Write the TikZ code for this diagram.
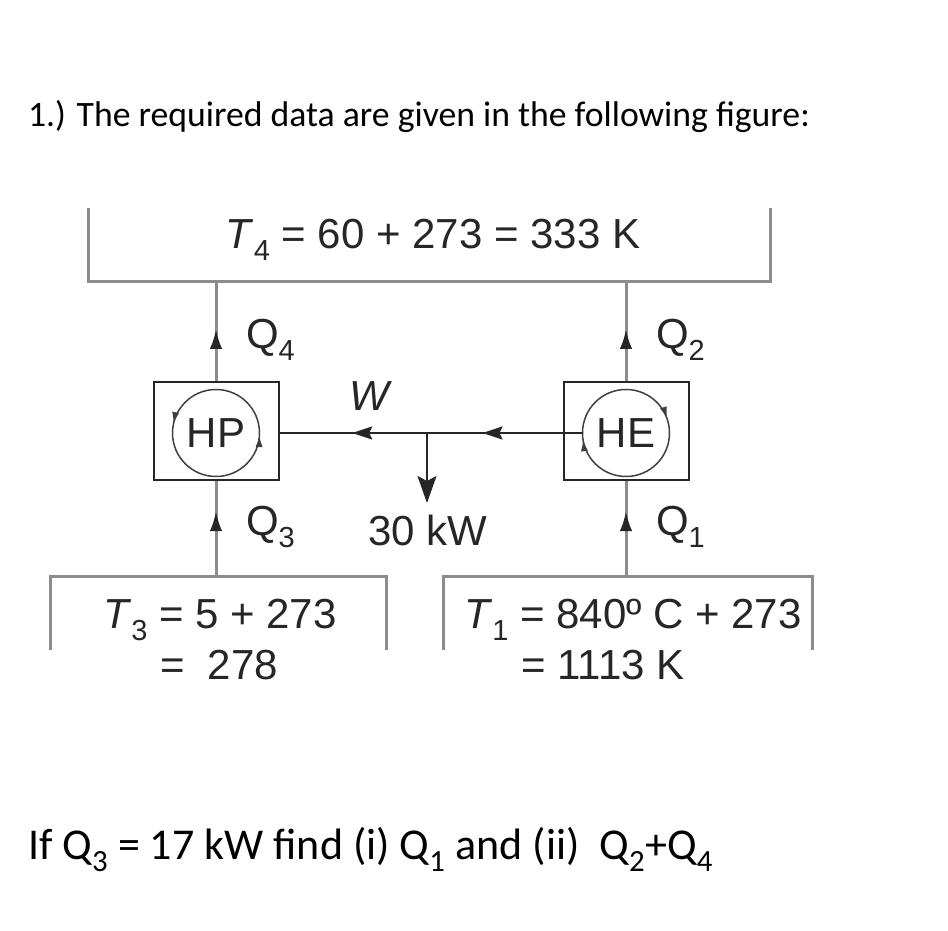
\documentclass[tikz,border=0pt]{standalone}
\usepackage{fontspec}
\setmainfont{Carlito}
\newfontfamily\figfont{Liberation Sans}
\usetikzlibrary{arrows.meta,decorations.markings}
\newcommand\lowidx[1]{\raisebox{-0.3em}{\fontsize{29}{29}\selectfont #1}}

\begin{document}
\begin{tikzpicture}[x=1pt,y=1pt,
	>={Latex[length=17pt,width=11pt]},
	every path/.style={line width=2pt},
	wall/.style={draw=black!45, line width=3pt},
	heat/.style={draw=black!45, line width=3pt, postaction={decorate,
		decoration={markings, mark=at position #1 with {\arrow[black!85]{>}}}}},
	work/.style={draw=black!85, line width=2pt, postaction={decorate,
		decoration={markings,
			mark=at position 0.33 with {\arrow{Stealth[length=20pt,width=13pt,inset=3pt]}},
			mark=at position 0.76 with {\arrow{Stealth[length=20pt,width=13pt,inset=3pt]}}}}},
	ccw/.style={draw=black!75, line width=1.5pt, postaction={decorate,
		decoration={markings,
			mark=at position 0.47 with {\arrow{Latex[length=13pt,width=8pt]}},
			mark=at position 0.995 with {\arrow{Latex[length=13pt,width=8pt]}}}}},
	cw/.style={draw=black!75, line width=1.5pt, postaction={decorate,
		decoration={markings,
			mark=at position 0.05 with {\arrowreversed{Latex[length=13pt,width=8pt]}},
			mark=at position 0.52 with {\arrowreversed{Latex[length=13pt,width=8pt]}}}}},
	unit/.style={draw=black!85, line width=2pt, minimum width=125pt, minimum height=98pt},
	lab/.style={font=\figfont\fontsize{42}{48}\selectfont, text=black!85, inner sep=0pt},
	txt/.style={anchor=base west, inner sep=0pt}]
	\fill[white] (0,0) rectangle (948,931);
	\useasboundingbox (0,0) rectangle (948,931);

	\node[txt, font=\fontsize{35.7}{40}\selectfont] (title) at (27,804)
		{1.) The required data are given in the following figure:};
	\node[txt, font=\fontsize{44}{50}\selectfont] (question) at (27,71)
		{If Q\textsubscript{3} = 17 kW find (i) Q\textsubscript{1} and (ii)\ \ Q\textsubscript{2}+Q\textsubscript{4}};

	% reservoirs
	\draw[wall] (88,723) -- (88,649) -- (770,649) -- (770,723);
	\draw[wall] (50,281) -- (50,354) -- (386,354) -- (386,281);
	\draw[wall] (443,281) -- (443,354) -- (812,354) -- (812,281);
	\coordinate (hot4) at (216,649);
	\coordinate (hot2) at (626,649);
	\coordinate (cold3) at (216,354);
	\coordinate (cold1) at (626,354);

	\node[lab] (tfour) at (433,691) {\textit{T}\lowidx{4} = 60 + 273 = 333 K};
	\node[lab] (tthree) at (220,311) {\textit{T}\lowidx{3} = 5 + 273};
	\node[lab] (tthreeb) at (219,266) {=\ \ 278};
	\node[lab] (tone) at (633,311) {\textit{T}\lowidx{1} = 840º C + 273};
	\node[lab] (toneb) at (603,266) {= 1113 K};

	% heat pump and heat engine
	\node[unit] (hpbox) at (216,500) {};
	\node[unit] (hebox) at (626,500) {};
	\node[lab] (hp) at (216,498) {HP};
	\node[lab] (he) at (626,498) {HE};
	\draw[ccw] (hp.center) circle[radius=43.5pt];
	\draw[cw] (he.center) circle[radius=43.5pt];

	\draw[heat=0.5] (hpbox.north) -- (hot4);
	\draw[heat=0.5] (hebox.north) -- (hot2);
	\draw[heat=0.66] (cold3) -- (hpbox.south);
	\draw[heat=0.66] (cold1) -- (hebox.south);
	\node[lab, anchor=west] (qfour) at (245,591) {Q\lowidx{4}};
	\node[lab, anchor=west] (qtwo) at (655,591) {Q\lowidx{2}};
	\node[lab, anchor=west] (qthree) at (245,404) {Q\lowidx{3}};
	\node[lab, anchor=west] (qone) at (655,404) {Q\lowidx{1}};

	% work
	\coordinate (hein) at ([xshift=-43.5pt]he.center);
	\coordinate (split) at (427,498);
	\coordinate (out) at (427,428);
	\draw[work] (hein) -- (hein -| hpbox.east);
	\draw[draw=black!85, -{Stealth[length=27pt,width=19pt,inset=5pt]}] (split) -- (out);
	\node[lab, font=\figfont\itshape\fontsize{42}{48}\selectfont] (wlabel) at (369,535) {W};
	\node[lab] (power) at (428,401) {30 kW};
\end{tikzpicture}
\end{document}
